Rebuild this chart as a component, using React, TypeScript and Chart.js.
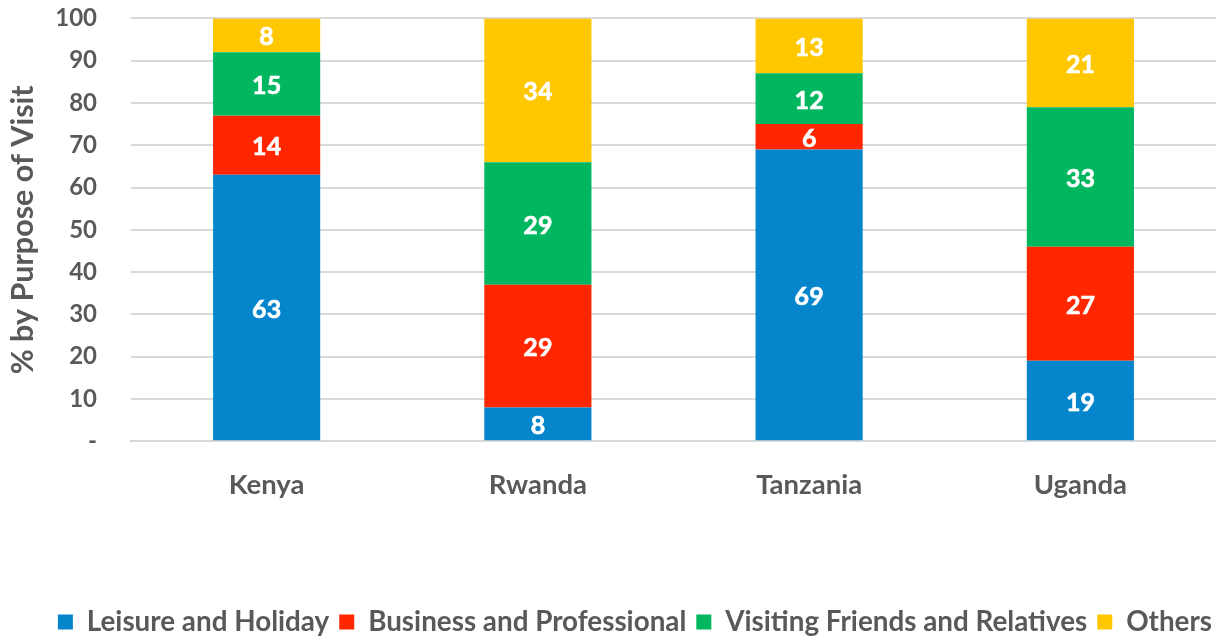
import React, { useEffect, useRef } from "react";
import { Chart, registerables } from "chart.js";
Chart.register(...registerables);

const categories = ["Kenya", "Rwanda", "Tanzania", "Uganda"];
const seriesNames = ["Leisure and Holiday", "Business and Professional", "Visiting Friends and Relatives", "Others"];
const leisure = [63, 8, 69, 19];
const business = [14, 29, 6, 27];
const visiting = [15, 29, 12, 33];
const others = [8, 34, 13, 21];
const colors = ["#0586CC", "#FF2600", "#00B760", "#FFC700"];
const yTicks = [0, 10, 20, 30, 40, 50, 60, 70, 80, 90, 100];

const FONT = "Lato, 'Open Sans', sans-serif";
const GRAY = "#595959";

const labelPlugin = {
  id: "segLabels",
  afterDatasetsDraw(chart: any) {
    const ctx = chart.ctx;
    ctx.save();
    ctx.fillStyle = "#FFFFFF";
    ctx.strokeStyle = "#FFFFFF";
    ctx.lineWidth = 0.6;
    ctx.font = `bold 25px ${FONT}`;
    ctx.textAlign = "center";
    ctx.textBaseline = "middle";
    chart.data.datasets.forEach((ds: any, i: number) => {
      const meta = chart.getDatasetMeta(i);
      meta.data.forEach((bar: any, j: number) => {
        const v = ds.data[j];
        const y = (bar.y + bar.base) / 2;
        ctx.fillText(String(v), bar.x, y + 2);
        ctx.strokeText(String(v), bar.x, y + 2);
      });
    });
    ctx.restore();
  },
};

export default function App() {
  const ref = useRef<HTMLCanvasElement>(null);
  useEffect(() => {
    document.body.style.margin = "0";
    const data = [leisure, business, visiting, others];
    const chart = new Chart(ref.current!, {
      type: "bar",
      data: {
        labels: categories,
        datasets: seriesNames.map((n, i) => ({
          label: n,
          data: data[i],
          backgroundColor: colors[i],
          borderWidth: 0,
          categoryPercentage: 1,
          barPercentage: 0.395,
        })),
      },
      options: {
        animation: false,
        responsive: false,
        maintainAspectRatio: false,
        layout: { padding: { top: 0, right: -6, left: 0, bottom: -8 } },
        plugins: {
          legend: {
            position: "bottom",
            align: "end",
            labels: {
              boxWidth: 15,
              boxHeight: 15,
              padding: 10,
              color: GRAY,
              font: { family: FONT, size: 27.8, weight: "bold" },
            },
          },
          tooltip: { enabled: false },
        },
        scales: {
          x: {
            stacked: true,
            grid: { display: false, drawTicks: false },
            border: { display: true, color: "#D9D9D9", width: 2 },
            ticks: {
              padding: 27,
              color: GRAY,
              font: { family: FONT, size: 27.5, weight: "bold" },
            },
            afterFit: (axis: any) => {
              axis.height = 157;
            },
          },
          y: {
            stacked: true,
            min: 0,
            max: 100,
            afterBuildTicks: (axis: any) => {
              axis.ticks = yTicks.map((v) => ({ value: v }));
            },
            grid: { color: "#D9D9D9", lineWidth: 2, drawTicks: true, tickLength: 30, tickColor: "rgba(0,0,0,0)" },
            border: { display: false },
            ticks: {
              padding: 4,
              color: GRAY,
              font: { family: FONT, size: 24, weight: "bold" },
              callback: (v: any) => (Number(v) === 0 ? "-" : String(v)),
            },
            title: {
              display: true,
              text: "% by Purpose of Visit",
              color: GRAY,
              font: { family: FONT, size: 30.5, weight: "bold" },
              padding: { top: 5, bottom: 0 },
            },
            afterFit: (axis: any) => {
              axis.width = 131;
            },
          },
        },
      },
      plugins: [labelPlugin],
    });
    return () => chart.destroy();
  }, []);
  return <canvas ref={ref} width={1216} height={638} style={{ display: "block" }} />;
}
